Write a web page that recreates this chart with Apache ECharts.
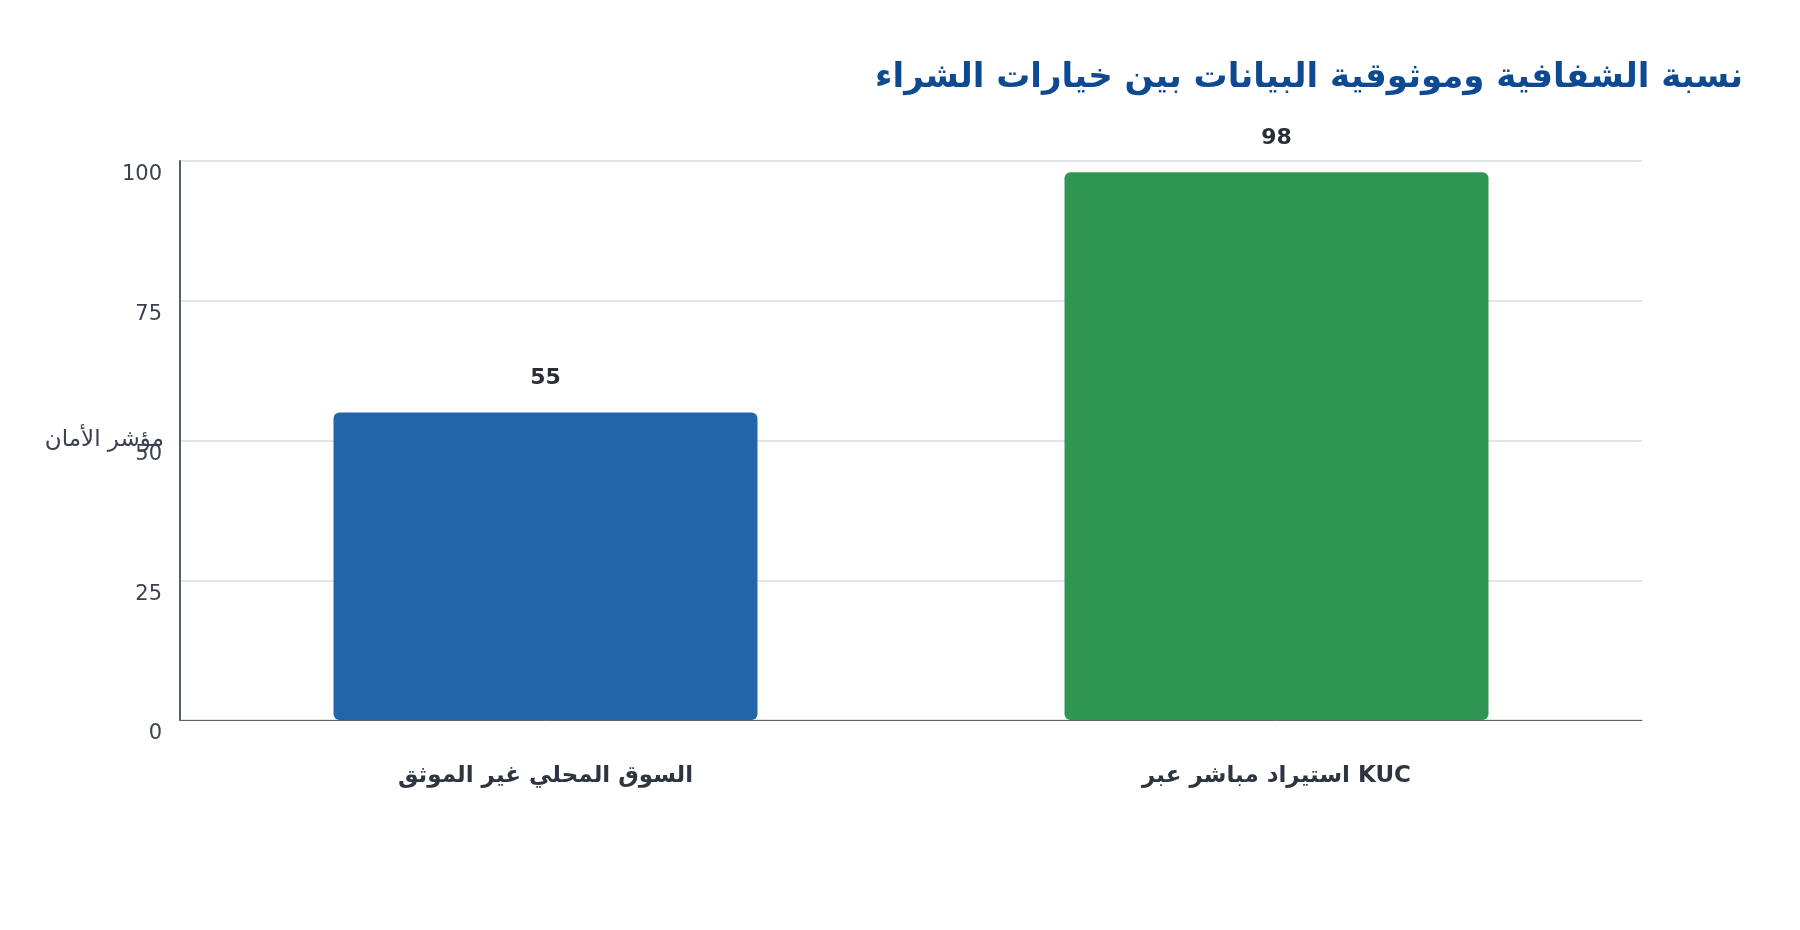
<!DOCTYPE html>
<html>
<head>
<meta charset="utf-8">
<script src="https://cdn.jsdelivr.net/npm/echarts@6/dist/echarts.min.js"></script>
<style>
html,body{margin:0;padding:0;background:#fff;}
#chart{width:1800px;height:930px;}
</style>
</head>
<body>
<div id="chart"></div>
<script>
const titleText = 'نسبة الشفافية وموثوقية البيانات بين خيارات الشراء';
const yAxisName = 'مؤشر الأمان';
const categories = ['السوق المحلي غير الموثق', 'استيراد مباشر عبر KUC'];
const values = [55, 98];
const barColors = ['#2266a9', '#2e9553'];
const yTicks = [0, 25, 50, 75, 100];

const chart = echarts.init(document.getElementById('chart'));
chart.setOption({
  backgroundColor: '#ffffff',
  animation: false,
  title: {
    text: titleText,
    right: 52,
    top: 56,
    textStyle: {
      fontFamily: 'DejaVu Sans',
      fontSize: 34,
      fontWeight: 'bold',
      color: '#0d4a92'
    }
  },
  grid: { left: 180, right: 158, top: 161, bottom: 210 },
  xAxis: {
    type: 'category',
    data: categories,
    axisLine: { lineStyle: { color: '#5b6371', width: 1 } },
    axisTick: { show: false },
    axisLabel: {
      fontFamily: 'DejaVu Sans',
      fontSize: 23,
      fontWeight: 'bold',
      color: '#2d3540',
      margin: 45
    }
  },
  yAxis: {
    type: 'value',
    min: yTicks[0],
    max: yTicks[yTicks.length - 1],
    interval: 25,
    name: yAxisName,
    nameLocation: 'middle',
    nameRotate: 0,
    nameGap: 16,
    nameMoveOverlap: false,
    nameTextStyle: {
      fontFamily: 'DejaVu Sans',
      fontSize: 23,
      color: '#3a4250',
      align: 'right',
      verticalAlign: 'middle'
    },
    axisLine: { show: true, lineStyle: { color: '#555f6d', width: 2 } },
    axisTick: { show: false },
    splitLine: { lineStyle: { color: '#e2e5ea', width: 2 } },
    axisLabel: {
      fontFamily: 'DejaVu Sans',
      fontSize: 21,
      color: '#3a4250',
      margin: 18,
      verticalAlign: 'top',
      lineHeight: 28
    }
  },
  series: [{
    type: 'bar',
    barWidth: '58%',
    data: values.map((v, i) => ({ value: v, itemStyle: { color: barColors[i] } })),
    itemStyle: { borderRadius: 6 },
    label: {
      show: true,
      position: 'top',
      distance: 23,
      fontFamily: 'DejaVu Sans',
      fontSize: 22,
      fontWeight: 'bold',
      color: '#2a2d33'
    }
  }]
});
</script>
</body>
</html>
